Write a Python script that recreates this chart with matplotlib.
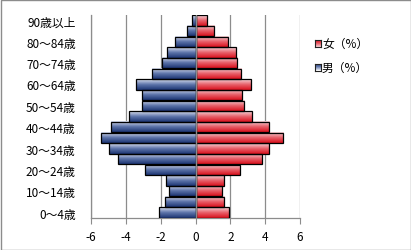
import matplotlib
matplotlib.use("Agg")
import matplotlib.pyplot as plt
import numpy as np
from matplotlib.colors import LinearSegmentedColormap
from matplotlib.patches import Rectangle

plt.rcParams['font.family'] = ['Noto Sans CJK JP', 'DejaVu Sans']

ages = ["0～4歳", "5～9歳", "10～14歳", "15～19歳", "20～24歳", "25～29歳", "30～34歳",
        "35～39歳", "40～44歳", "45～49歳", "50～54歳", "55～59歳", "60～64歳", "65～69歳",
        "70～74歳", "75～79歳", "80～84歳", "85～89歳", "90歳以上"]
male = [-2.09, -1.75, -1.52, -1.69, -2.89, -4.44, -4.96, -5.42, -4.84, -3.79,
        -3.07, -3.07, -3.41, -2.49, -1.92, -1.63, -1.19, -0.48, -0.21]
female = [1.93, 1.64, 1.53, 1.64, 2.56, 3.79, 4.23, 5.03, 4.23, 3.27,
          2.79, 2.68, 3.21, 2.64, 2.41, 2.33, 1.84, 1.09, 0.67]
series_names = ["女（%）", "男（%）"]
xticks = [-6, -4, -2, 0, 2, 4, 6]

cm_m = LinearSegmentedColormap.from_list("m", ["#1c3472", "#5d74aa", "#dde3f1"])
cm_f = LinearSegmentedColormap.from_list("f", ["#d8101c", "#e8606a", "#f6d6da"])

fig = plt.figure(figsize=(4.11, 2.51), dpi=100)
ax = fig.add_axes([91/411, (251-219)/251, 209/411, 203/251])

y = np.arange(len(ages))
h = 0.97
grad = np.linspace(0, 1, 64).reshape(-1, 1)

ax.set_xlim(-6, 6)
ax.set_ylim(-0.5, len(ages) - 0.5)

for vals, cm in ((male, cm_m), (female, cm_f)):
    bars = ax.barh(y, vals, height=h, facecolor='none', edgecolor='black', linewidth=0.9, zorder=4)
    for b in bars:
        x0, y0 = b.get_x(), b.get_y()
        w, hh = b.get_width(), b.get_height()
        xa, xb = min(x0, x0 + w), max(x0, x0 + w)
        ax.imshow(grad, cmap=cm, aspect='auto', extent=(xa, xb, y0 + hh, y0),
                  origin='upper', zorder=3, interpolation='bilinear')

ax.set_xlim(-6, 6)
ax.set_ylim(-0.5, len(ages) - 0.5)
ax.axvline(0, color='#8c8c8c', linewidth=1.0, zorder=5)
for xv in xticks:
    ax.axvline(xv, color='#8c8c8c', linewidth=0.9, zorder=1)

ax.set_xticks(xticks)
ax.set_xticklabels([str(v) for v in xticks], fontsize=8.5)
ax.set_yticks(y[::2])
ax.set_yticklabels(ages[::2], fontsize=8.5)
ax.tick_params(axis='y', length=0, pad=11)
ax.tick_params(axis='x', length=4, color='#8c8c8c', pad=5)
for s in ['top', 'right']:
    ax.spines[s].set_visible(False)
for s in ['left', 'bottom']:
    ax.spines[s].set_color('#8c8c8c')
    ax.spines[s].set_linewidth(0.9)

# legend
for i, (name, cm) in enumerate(zip(series_names, (cm_f, cm_m))):
    yc = 44 + i * 24
    lax = fig.add_axes([315/411, (251 - yc - 3.5)/251, 6/411, 7/251])
    lax.imshow(grad, cmap=cm, aspect='auto', interpolation='bilinear')
    lax.set_xticks([]); lax.set_yticks([])
    for s in lax.spines.values():
        s.set_linewidth(0.8); s.set_color('#222222')
    fig.text(322/411, (251 - yc)/251, name, fontsize=8.5, va='center', ha='left')

fig.patches.append(Rectangle((0.5/411, 0.5/251), 1 - 1/411, 1 - 1/251, transform=fig.transFigure,
                             fill=False, edgecolor='#8c8c8c', linewidth=1.0))

fig.savefig("out.png", dpi=100)
